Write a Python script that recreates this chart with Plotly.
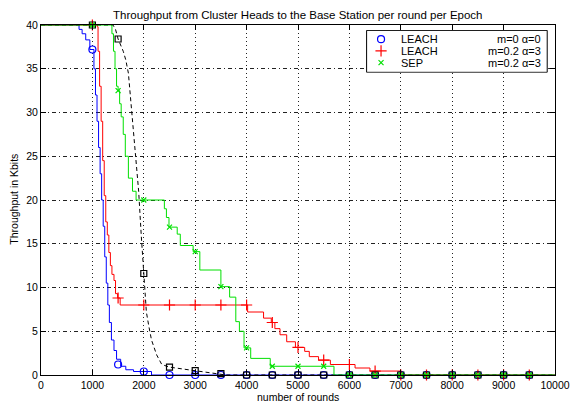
import plotly.graph_objects as go

# ---------------- data ----------------
leach0_x = [0, 740, 800, 870, 950, 1030, 1060, 1090, 1120, 1150, 1180, 1210, 1240, 1270, 1300, 1330, 1370, 1420, 1470, 1550, 1650, 1800, 2150, 10000]
leach0_y = [40, 39.5, 39, 38.3, 37.2, 35, 32, 29, 26, 23, 20, 17, 13.5, 10.5, 8, 6, 4, 2.8, 1.8, 1.0, 0.6, 0.4, 0, 0]

leach2_x = [0, 1095, 1110, 1140, 1170, 1200, 1230, 1260, 1290, 1320, 1350, 1380, 1420, 1450, 1490, 1540,
            4020, 4330, 4480, 4550, 4650, 4780, 4950, 5130, 5220, 5400, 5630, 6110, 6400, 7000, 10000]
leach2_y = [40, 39.8, 37, 33, 29, 24.5, 20.5, 17.5, 16, 14, 12.5, 11.5, 10.8, 9.3, 8.8, 8.0,
            7.2, 6.5, 6.0, 5.3, 4.6, 3.8, 3.15, 2.7, 2.1, 1.7, 1.2, 0.8, 0.45, 0, 0]

sep_x = [0, 1380, 1410, 1440, 1470, 1500, 1530, 1560, 1600, 1640, 1700, 1780, 1850, 2400, 2440, 2490, 2650, 2710,
         2960, 3090, 3500, 3670, 3790, 3860, 3950, 4080, 4460, 5700, 10000]
sep_y = [40, 39, 37, 35, 33, 32.5, 31, 29.5, 27.5, 25, 22.5, 21, 20, 19, 18, 16.9, 16.1, 14.8,
         14.1, 12.0, 10.1, 8.9, 6.1, 5.0, 3.1, 1.9, 1.0, 0, 0]

ref_x = [0, 1400, 1450, 1500, 1600, 1650, 1700, 1750, 1800, 1850, 1900, 1950, 2000, 2050, 2100, 2150, 2250, 2350,
         2500, 2750, 3000, 3250, 3500, 3600, 10000]
ref_y = [40, 40, 39.5, 38.4, 37, 36, 34.5, 31, 27.5, 24, 21, 16, 11.6, 7.2, 5.5, 4, 2.3, 1.2,
         0.9, 0.7, 0.5, 0.3, 0.15, 0, 0]

marker_x = [1000, 1500, 2000, 2500, 3000, 3500, 4000, 4500, 5000, 5500, 6000, 6500, 7000, 7500, 8000, 8500, 9000, 9500]
leach0_m = [37.2, 1.2, 0.4, 0, 0, 0, 0, 0, 0, 0, 0, 0, 0, 0, 0, 0, 0, 0]
leach2_m = [40, 8.8, 8, 8, 8, 8, 8, 6.0, 3.15, 1.7, 1.2, 0.45, 0, 0, 0, 0, 0, 0]
sep_m = [40, 32.5, 20, 16.9, 14.1, 10.1, 3.1, 1.0, 1.0, 1.0, 0, 0, 0, 0, 0, 0, 0, 0]
ref_m = [40, 38.4, 11.6, 0.9, 0.5, 0.15, 0, 0, 0, 0, 0, 0, 0, 0, 0, 0, 0, 0]

legend_names = ["LEACH", "LEACH", "SEP"]
legend_params = ["m=0 \u03b1=0", "m=0.2 \u03b1=3", "m=0.2 \u03b1=3"]

x_ticks = list(range(0, 10001, 1000))
y_ticks = list(range(0, 41, 5))

title = "Throughput from Cluster Heads to the Base Station per round per Epoch"
x_title = "number of rounds"
y_title = "Throughput in Kbits"

# ---------------- styles ----------------
FONT = "Liberation Sans, Arial, sans-serif"
BLUE, RED, GREEN, BLACK = "#0000ff", "#ff0000", "#00e000", "#000000"
styles = [
    dict(color=BLUE, symbol="circle-open", size=7),
    dict(color=RED, symbol="cross-thin-open", size=8),
    dict(color=GREEN, symbol="x-thin-open", size=5),
]

fig = go.Figure()

series = [
    (leach0_x, leach0_y, leach0_m, BLUE, "circle-open", 7, "solid", "hv", "LEACH m=0 \u03b1=0"),
    (leach2_x, leach2_y, leach2_m, RED, "cross-thin-open", 8, "solid", "hv", "LEACH m=0.2 \u03b1=3"),
    (ref_x, ref_y, ref_m, BLACK, "square-open", 6, "4px,3px", "linear", "reference"),
    (sep_x, sep_y, sep_m, GREEN, "x-thin-open", 5, "solid", "hv", "SEP m=0.2 \u03b1=3"),
]
for xs, ys, ms, col, sym, sz, dash, shape, name in series:
    fig.add_trace(go.Scatter(x=xs, y=ys, mode="lines", line=dict(color=col, width=1, dash=dash, shape=shape),
                             name=name, showlegend=False, hoverinfo="skip"))
    fig.add_trace(go.Scatter(x=marker_x, y=ms, mode="markers",
                             marker=dict(symbol=sym, size=sz, color=col, line=dict(color=col, width=1.2)),
                             name=name, showlegend=False, cliponaxis=False))

# ---------------- manual legend in its own small axes ----------------
fig.add_trace(go.Scatter(x=[0, 1, 1, 0, 0], y=[0, 0, 1, 1, 0], xaxis="x2", yaxis="y2", mode="lines",
                         fill="toself", fillcolor="white", line=dict(color="black", width=1),
                         showlegend=False, hoverinfo="skip"))
rows = [0.79, 0.51, 0.23]
for st, ry in zip(styles, rows):
    fig.add_trace(go.Scatter(x=[0.08], y=[ry], xaxis="x2", yaxis="y2", mode="markers",
                             marker=dict(symbol=st["symbol"], size=st["size"], color=st["color"],
                                         line=dict(color=st["color"], width=1.2)),
                             showlegend=False, hoverinfo="skip"))
annotations = []
for nm, pr, ry in zip(legend_names, legend_params, rows):
    annotations.append(dict(x=0.177, y=ry, xref="x2", yref="y2", text=nm, showarrow=False,
                            xanchor="left", yanchor="middle", font=dict(size=11, color="black", family=FONT)))
    annotations.append(dict(x=0.975, y=ry, xref="x2", yref="y2", text=pr, showarrow=False,
                            xanchor="right", yanchor="middle", font=dict(size=11, color="black", family=FONT)))

annotations += [
    dict(x=0.5, y=1.028, xref="paper", yref="paper", text=title, showarrow=False,
         xanchor="center", yanchor="middle", font=dict(size=11.5, color="black", family=FONT)),
    dict(x=0.5, y=-0.062, xref="paper", yref="paper", text=x_title, showarrow=False,
         xanchor="center", yanchor="middle", font=dict(size=10.5, color="black", family=FONT)),
    dict(x=-0.053, y=0.503, xref="paper", yref="paper", text=y_title, showarrow=False, textangle=-90,
         xanchor="center", yanchor="middle", font=dict(size=10.5, color="black", family=FONT)),
]

axis_common = dict(showline=True, linecolor="black", linewidth=1, mirror="ticks", ticks="inside",
                   ticklen=5, tickcolor="black", showgrid=True, gridcolor="#222222", gridwidth=1,
                   zeroline=False, tickfont=dict(size=10.5, color="black", family=FONT))

fig.update_layout(
    width=582, height=403,
    margin=dict(l=41, r=17, t=25, b=26),
    paper_bgcolor="white", plot_bgcolor="white",
    showlegend=False,
    font=dict(family=FONT, color="black"),
    xaxis=dict(range=[0, 10000], tickvals=x_ticks, ticktext=[str(v) for v in x_ticks],
               griddash="1px,3px", **axis_common),
    yaxis=dict(range=[0, 40], tickvals=y_ticks, ticktext=[str(v) for v in y_ticks],
               griddash="4px,3px,1px,3px", **axis_common),
    xaxis2=dict(domain=[0.6317, 0.9866], range=[-0.005, 1.005], visible=False, fixedrange=True),
    yaxis2=dict(domain=[0.8636, 0.9858], range=[-0.01, 1.01], visible=False, fixedrange=True),
    annotations=annotations,
)

fig.write_html("out.html")
